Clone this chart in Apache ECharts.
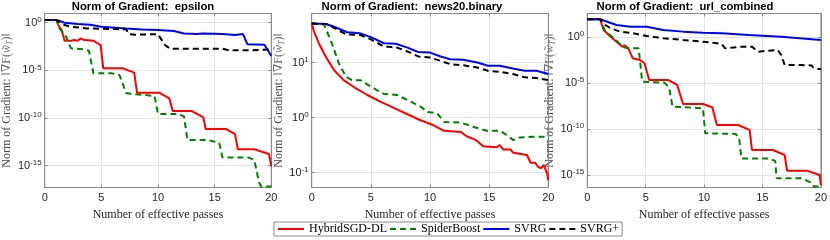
<!DOCTYPE html>
<html><head><meta charset="utf-8">
<script src="https://cdn.jsdelivr.net/npm/echarts@6/dist/echarts.min.js"></script>
<style>html,body{margin:0;padding:0;background:#fff}#c{width:830px;height:240px}</style>
</head><body><div id="c"></div>
<script>
// ---- data: [effective passes, log10(norm of gradient)] ----
const methods = ['HybridSGD-DL', 'SpiderBoost', 'SVRG', 'SVRG+'];
const titles = ['Norm of Gradient:  epsilon', 'Norm of Gradient:  news20.binary', 'Norm of Gradient:  url_combined'];
const xTicks = [0, 5, 10, 15, 20];
const yTicksEps = [-15, -10, -5, 0];
const yTicksNews = [-1, 0, 1];
const yTicksUrl = [-15, -10, -5, 0];
const yLimEps = [-17.3, 0.97];
const yLimNews = [-1.27, 1.89];
const yLimUrl = [-16.36, 2.55];

const epsHybrid = [[0,0.28],[1.05,0.28],[1.2,-0.24],[1.5,-0.77],[1.76,-1.89],[2.33,-1.89],[2.6,-1.82],[2.9,-1.89],[3.2,-1.64],[3.5,-1.82],[4.3,-1.89],[4.94,-2.34],[5.17,-4.79],[6.9,-4.79],[7.9,-5.24],[8.15,-7.34],[10.1,-7.34],[11.0,-7.94],[11.3,-9.27],[13.0,-9.27],[14.0,-9.93],[14.2,-11.15],[16.0,-11.15],[16.8,-11.7],[17.05,-13.29],[18.5,-13.29],[19.8,-13.78],[20,-15.1]];
const epsSpider = [[0,0.28],[1.05,0.28],[1.3,-0.6],[1.9,-1.47],[2.05,-2.0],[2.33,-2.69],[3.47,-2.8],[3.9,-2.94],[4.3,-5.31],[5.9,-5.31],[6.6,-5.49],[7.2,-7.41],[9.7,-7.69],[10.0,-9.58],[11.85,-9.58],[12.3,-9.86],[12.6,-12.3],[14.3,-12.3],[15.4,-12.6],[15.7,-14.16],[18.0,-14.16],[18.5,-14.4],[18.9,-16.7],[19.1,-17.2],[20,-17.2]];
const epsSvrg = [[0,0.28],[1.05,0.28],[1.76,0.0],[2.9,-0.14],[4.0,-0.2],[5.0,-0.42],[7.2,-0.6],[8.6,-0.7],[10,-0.77],[11.4,-0.87],[12.3,-1.12],[13.4,-1.19],[14,-1.12],[15.7,-1.19],[16.8,-1.29],[17.5,-1.19],[17.9,-2.27],[19.4,-2.3],[20,-3.5]];
const epsSvrgPlus = [[0,0.28],[1.05,0.28],[1.76,-0.24],[2.3,-0.42],[3.75,-0.6],[7.2,-0.7],[7.4,-1.19],[8,-1.26],[10,-1.19],[10.6,-2.34],[11.1,-2.73],[15.7,-2.73],[16.3,-2.9],[18,-2.9],[20,-2.8]];

const newsHybrid = [[0,1.71],[0.2,1.56],[0.6,1.35],[1.2,1.1],[1.9,0.86],[2.7,0.68],[3.6,0.55],[4.7,0.41],[5.8,0.29],[6.9,0.18],[7.2,0.15],[8.1,0.06],[9.0,-0.03],[9.7,-0.09],[10.3,-0.14],[11.2,-0.24],[12.6,-0.26],[13.1,-0.34],[13.9,-0.41],[14.5,-0.52],[15.6,-0.54],[15.9,-0.5],[16.2,-0.58],[16.8,-0.58],[17.05,-0.64],[18.2,-0.68],[18.5,-0.82],[18.9,-0.82],[19.1,-0.89],[19.4,-0.92],[19.6,-0.86],[19.9,-1.01],[20,-1.14]];
const newsSpider = [[0,1.71],[1.04,1.69],[1.3,1.56],[1.7,1.35],[2.3,0.98],[2.9,0.74],[3.4,0.68],[4.1,0.68],[4.8,0.59],[5.5,0.5],[6.1,0.43],[7.2,0.41],[8.1,0.32],[9.2,0.2],[9.8,0.1],[10.6,0.08],[11.2,-0.08],[12.6,-0.09],[13.7,-0.17],[14.8,-0.24],[15.9,-0.24],[16.5,-0.32],[17.05,-0.41],[17.6,-0.36],[18.7,-0.35],[19.6,-0.35],[20,-0.4]];
const newsSvrg = [[0,1.71],[1.2,1.7],[1.9,1.65],[3.0,1.55],[4.1,1.53],[5,1.46],[6.1,1.35],[7.1,1.34],[8.1,1.27],[9.0,1.19],[10,1.18],[10.9,1.11],[11.7,1.06],[12.8,1.05],[14,1.0],[14.9,0.94],[15.9,0.94],[17,0.89],[18,0.85],[19,0.85],[20,0.79]];
const newsSvrgPlus = [[0,1.71],[1.2,1.7],[1.9,1.63],[2.9,1.51],[4.1,1.5],[5,1.42],[6.1,1.29],[7.1,1.28],[8.1,1.2],[9.0,1.11],[10,1.09],[10.9,1.03],[11.7,0.97],[12.8,0.95],[14,0.91],[14.9,0.85],[15.9,0.83],[17,0.79],[18,0.73],[19,0.72],[20,0.68]];

const urlHybrid = [[0,1.92],[1.1,1.92],[1.4,0.76],[2.0,0.03],[2.5,-0.51],[3.0,-1.05],[3.2,-0.9],[3.5,-1.23],[3.9,-2.32],[4.5,-2.5],[4.9,-2.86],[5.3,-4.67],[6.9,-4.67],[7.7,-5.22],[8.2,-7.28],[9.9,-7.28],[10.7,-7.64],[11.1,-9.57],[12.9,-9.57],[13.9,-10.1],[14.1,-12.28],[15.9,-12.28],[16.9,-12.83],[17.1,-14.53],[18.8,-14.53],[19.9,-15.0],[20,-16.1]];
const urlSpider = [[0,1.92],[1.1,1.92],[1.55,0.58],[2.3,-0.14],[3.0,-1.05],[3.4,-1.2],[4.4,-1.23],[4.7,-4.86],[6.6,-4.96],[7.0,-5.47],[7.3,-7.57],[9.9,-7.75],[10.1,-10.47],[12.7,-10.54],[13.0,-11.0],[13.2,-13.2],[15.6,-13.2],[16.1,-13.5],[16.2,-15.36],[18.3,-15.36],[19.2,-15.84],[19.4,-16.25],[20,-16.25]];
const urlSvrg = [[0,1.92],[1.1,1.92],[2.5,1.3],[3.7,1.12],[5.1,1.1],[6.5,0.76],[8.2,0.58],[9.9,0.47],[11.5,0.4],[13.8,0.22],[16.6,0.03],[20,-0.33]];
const urlSvrgPlus = [[0,1.92],[1.1,1.92],[1.55,1.3],[2.0,0.94],[2.8,0.58],[3.9,0.4],[5.1,0.11],[6.5,-0.14],[8.2,-0.33],[9.9,-0.51],[11.5,-0.76],[11.8,-1.23],[13.2,-1.05],[14.1,-1.05],[14.6,-1.6],[16.3,-1.41],[16.6,-1.96],[16.9,-3.04],[18.3,-3.04],[19.2,-3.1],[19.4,-3.4],[20,-3.51]];

// ---- layout / style ----
const panels = [
  {data: [epsHybrid, epsSpider, epsSvrg, epsSvrgPlus], ticks: yTicksEps, lim: yLimEps, left: 36, width: 235.3, nameGap: 15, titleX: 143},
  {data: [newsHybrid, newsSpider, newsSvrg, newsSvrgPlus], ticks: yTicksNews, lim: yLimNews, left: 311.7, width: 236.6, nameGap: 21, titleX: 412},
  {data: [urlHybrid, urlSpider, urlSvrg, urlSvrgPlus], ticks: yTicksUrl, lim: yLimUrl, left: 587.3, width: 236, nameGap: 20, titleX: 685}
];
const styles = [
  {color: '#ff0000', type: 'solid'},
  {color: '#008000', type: [6, 4]},
  {color: '#0000ff', type: 'solid'},
  {color: '#000000', type: [6, 4]}
];
const TOP = 13.5, HEIGHT = 174;
const SANS = 'Liberation Sans, Arial, Helvetica, sans-serif';
const SERIF = 'Liberation Serif, DejaVu Serif, Times New Roman, serif';
const FRAME = '#8a8a8a', TXT = '#262626', GRID = '#e3e3e3';

const grid = [], xAxis = [], yAxis = [], series = [], graphic = [];
panels.forEach((p, i) => {
  grid.push({left: p.left, top: TOP, width: p.width, height: HEIGHT, show: true, borderColor: FRAME, borderWidth: 1, containLabel: false});
});
panels.forEach((p, i) => {
  xAxis.push({
    type: 'value', gridIndex: i, min: 0, max: 20, interval: 5, position: 'bottom',
    name: 'Number of effective passes', nameLocation: 'middle', nameGap: 16,
    nameTextStyle: {fontFamily: SERIF, fontSize: 12, color: TXT},
    axisLine: {show: true, onZero: false, lineStyle: {color: FRAME}},
    axisTick: {show: true, inside: true, length: 3, lineStyle: {color: FRAME}},
    axisLabel: {show: true, margin: 5, fontFamily: SANS, fontSize: 11, color: TXT},
    splitLine: {show: true, lineStyle: {color: GRID, width: 1}}
  });
});
panels.forEach((p, i) => {
  xAxis.push({
    type: 'value', gridIndex: i, min: 0, max: 20, interval: 5, position: 'top',
    axisLine: {show: true, onZero: false, lineStyle: {color: FRAME}},
    axisTick: {show: true, inside: true, length: 3, lineStyle: {color: FRAME}},
    axisLabel: {show: false}, splitLine: {show: false}
  });
});
const yName = '{n|Norm of Gradient: }{m|\u2016\u2207F(}{w|w\u0303}{t|T}{m|)\u2016}';
panels.forEach((p, i) => {
  yAxis.push({
    type: 'value', gridIndex: i, min: p.lim[0], max: p.lim[1], position: 'left',
    name: yName, nameLocation: 'middle', nameGap: p.nameGap,
    nameTextStyle: {
      color: '#4a4a4a',
      rich: {
        n: {fontFamily: SERIF, fontSize: 12, color: '#4a4a4a', lineHeight: 14},
        m: {fontFamily: SERIF, fontSize: 12, color: '#6a6a6a', lineHeight: 14},
        w: {fontFamily: SERIF, fontSize: 12, fontStyle: 'italic', color: '#6a6a6a', lineHeight: 14},
        t: {fontFamily: SERIF, fontSize: 8, fontStyle: 'italic', color: '#6a6a6a', lineHeight: 8, verticalAlign: 'bottom'}
      }
    },
    axisLine: {show: true, onZero: false, lineStyle: {color: FRAME}},
    axisTick: {show: true, inside: true, length: 3, customValues: p.ticks, lineStyle: {color: FRAME}},
    axisLabel: {
      show: true, margin: 3, customValues: p.ticks,
      formatter: v => '{b|10}{s|' + Math.round(v) + '}',
      rich: {
        b: {fontFamily: SANS, fontSize: 11, color: TXT, lineHeight: 14},
        s: {fontFamily: SANS, fontSize: 8, color: TXT, lineHeight: 9, verticalAlign: 'top'}
      }
    },
    splitLine: {show: true, lineStyle: {color: GRID, width: 1}}
  });
});
panels.forEach((p, i) => {
  yAxis.push({
    type: 'value', gridIndex: i, min: p.lim[0], max: p.lim[1], position: 'right',
    axisLine: {show: true, onZero: false, lineStyle: {color: FRAME}},
    axisTick: {show: true, inside: true, length: 3, customValues: p.ticks, lineStyle: {color: FRAME}},
    axisLabel: {show: false}, splitLine: {show: false}
  });
});
panels.forEach((p, i) => {
  p.data.forEach((d, k) => {
    series.push({
      type: 'line', name: methods[k], xAxisIndex: i, yAxisIndex: i, data: d,
      symbol: 'none', showSymbol: false, clip: true, animation: false,
      lineStyle: {color: styles[k].color, width: 2, type: styles[k].type},
      itemStyle: {color: styles[k].color},
      z: 2 + k
    });
  });
  graphic.push({
    type: 'text', x: p.titleX, y: 6.5,
    style: {text: titles[i], align: 'center', verticalAlign: 'middle', font: 'bold 11.3px ' + SANS, fill: '#000'}
  });
});

const chart = echarts.init(document.getElementById('c'), null, {renderer: 'canvas'});
chart.setOption({
  animation: false,
  backgroundColor: '#ffffff',
  grid, xAxis, yAxis, series, graphic,
  legend: {
    data: methods, left: 274, top: 222, orient: 'horizontal',
    itemWidth: 26, itemHeight: 14, itemGap: 2, padding: [1, 3],
    itemStyle: {opacity: 0, borderWidth: 0},
    borderColor: '#8a8a8a', borderWidth: 1, backgroundColor: '#fff',
    textStyle: {fontFamily: SERIF, fontSize: 12, color: '#000'}
  }
});
</script></body></html>
